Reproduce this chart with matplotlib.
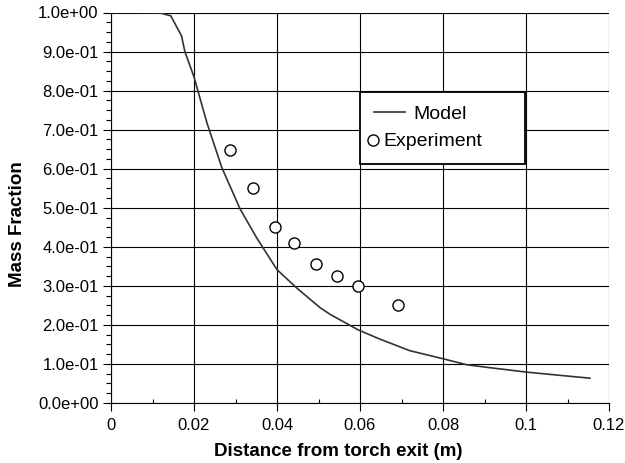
import matplotlib.pyplot as plt
from matplotlib.ticker import MultipleLocator, FuncFormatter
from matplotlib.legend_handler import HandlerLine2D

plt.rcParams["font.family"] = ["Liberation Sans", "DejaVu Sans"]

# Model curve
model_x = [0.0, 0.006, 0.0118, 0.0144, 0.0170, 0.0178, 0.0200, 0.0231, 0.0267,
           0.0311, 0.0351, 0.0400, 0.0447, 0.0504, 0.0528, 0.0596, 0.0648,
           0.0720, 0.0801, 0.0857, 0.0905, 0.1002, 0.1090, 0.1154]
model_y = [1.0, 1.0, 0.999, 0.9915, 0.94, 0.90, 0.835, 0.718, 0.603,
           0.497, 0.423, 0.3415, 0.295, 0.244, 0.227, 0.187, 0.1636,
           0.134, 0.113, 0.098, 0.0915, 0.079, 0.070, 0.0636]

# Experiment points
exp_x = [0.0287, 0.0341, 0.0396, 0.0441, 0.0494, 0.0545, 0.0594, 0.0691]
exp_y = [0.648, 0.550, 0.451, 0.409, 0.357, 0.324, 0.299, 0.250]

x_ticks = [0, 0.02, 0.04, 0.06, 0.08, 0.1, 0.12]
x_tick_labels = ["0", "0.02", "0.04", "0.06", "0.08", "0.1", "0.12"]


class LeftMarker(HandlerLine2D):
    # marker sits at the left end of the handle box (Excel style legend)
    def create_artists(self, legend, orig_handle, xdescent, ydescent,
                       width, height, fontsize, trans):
        arts = super().create_artists(legend, orig_handle, xdescent, ydescent,
                                      width, height, fontsize, trans)
        x = -xdescent - 0.05 * fontsize
        for a in arts:
            a.set_xdata([x] * len(a.get_xdata()))
        return arts


fig = plt.figure(figsize=(6.25, 4.63), dpi=100)
ax = fig.add_axes([111 / 625, 1 - 403 / 463, 498 / 625, 390.5 / 463])

ax.plot(model_x, model_y, color="#333333", lw=1.2, label="Model", zorder=3)
exp_line, = ax.plot(exp_x, exp_y, ls="none", marker="o", ms=8, mfc="white",
                    mec="black", mew=1.0, label="Experiment", zorder=4)

ax.set_xlim(0, 0.12)
ax.set_ylim(0, 1.0)
ax.set_xticks(x_ticks)
ax.set_xticklabels(x_tick_labels)
ax.xaxis.set_minor_locator(MultipleLocator(0.01))
ax.yaxis.set_major_locator(MultipleLocator(0.1))
ax.yaxis.set_minor_locator(MultipleLocator(0.025))
ax.yaxis.set_major_formatter(FuncFormatter(lambda v, p: f"{v:.1e}"))

ax.tick_params(axis="both", which="major", labelsize=12, direction="out",
               length=6, width=0.8, color="black")
ax.tick_params(axis="y", which="minor", direction="out", length=3.5, width=0.8)
ax.tick_params(axis="x", which="minor", direction="in", length=3, width=0.8)
ax.tick_params(axis="x", pad=5)
ax.tick_params(axis="y", pad=3)

ax.grid(True, which="major", color="black", lw=0.8)
ax.set_axisbelow(True)
for s in ax.spines.values():
    s.set_color("black")
    s.set_linewidth(0.8)
ax.spines["top"].set_visible(False)
ax.spines["right"].set_visible(False)

ax.set_xlabel("Distance from torch exit (m)", fontsize=13.5, fontweight="bold")
ax.set_ylabel("Mass Fraction", fontsize=13.5, fontweight="bold")
ax.xaxis.set_label_coords((338 - 111) / 498, -(452 - 403) / 390.5)
ax.yaxis.set_label_coords(-(111 - 18) / 498, (403 - 224.5) / 390.5)
ax.xaxis.label.set_va("center")
ax.yaxis.label.set_va("center")

leg = ax.legend(loc="upper left", bbox_to_anchor=(0.501, 0.797), fontsize=14,
                frameon=True, fancybox=False, framealpha=1, edgecolor="black",
                handlelength=1.6, handletextpad=0.4, borderpad=0.7,
                labelspacing=0.5, borderaxespad=0,
                handler_map={exp_line: LeftMarker()})
leg.get_frame().set_linewidth(1.3)
# pull the Experiment label close to its marker
leg.get_texts()[1].set_x(-30)

plt.savefig("out.png", dpi=100)
